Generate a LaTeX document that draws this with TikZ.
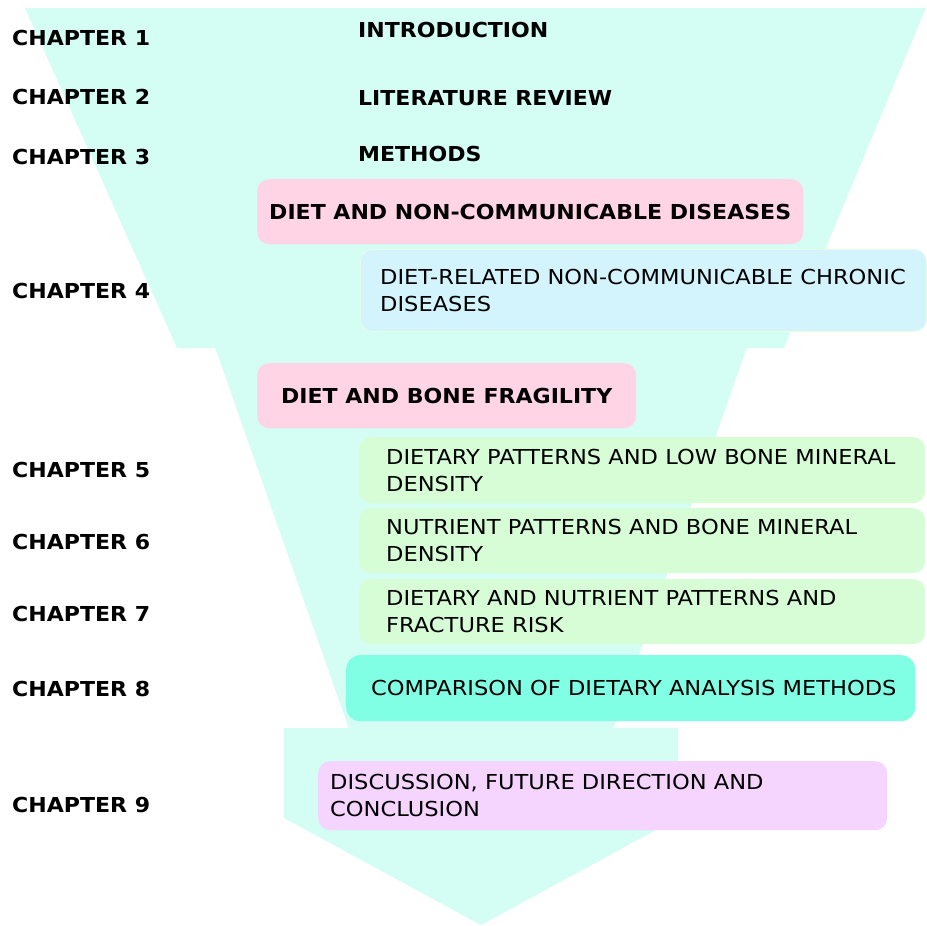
\documentclass[tikz,border=0pt]{standalone}
\usepackage{fontspec}
\setmainfont{DejaVu Sans}[FakeStretch=1.095]
\newfontfamily\chapfont{DejaVu Sans}[FakeStretch=1.07]

\definecolor{funnel}{HTML}{D4FDF3}
\definecolor{rose}{HTML}{FFD4E4}
\definecolor{sky}{HTML}{D4F4FD}
\definecolor{mint}{HTML}{D6FDD6}
\definecolor{aqua}{HTML}{80FFE4}
\definecolor{lilac}{HTML}{F5D4FD}

\tikzset{
  chap/.style={anchor=base west, inner sep=0pt, font=\chapfont\fontsize{20.6}{25}\selectfont\bfseries},
  panel/.style={anchor=north west, rounded corners=12pt, inner sep=0pt, draw=none},
  boldtxt/.style={inner sep=0pt, font=\chapfont\fontsize{20.6}{26.7}\selectfont\bfseries},
  plaintxt/.style={inner sep=0pt, anchor=west, align=left, font=\fontsize{20.6}{26.7}\selectfont},
}

\begin{document}
\begin{tikzpicture}[x=1pt, y=-1pt]
\useasboundingbox (0,0) rectangle (926,926);

% funnel background
\fill[funnel] (25,8) -- (926,8) -- (784,348) -- (177,348) -- cycle;
\fill[funnel] (215,347) -- (747,347) -- (613,729) -- (349,729) -- cycle;
\fill[funnel] (284,728) -- (678,728) -- (678,818) -- (483,924)
  to[out=-150,in=-30] (479,924) -- (284,818) -- cycle;

% chapter labels
\node[chap] (c1) at (12,45) {CHAPTER 1};
\node[chap] (c2) at (12,104.5) {CHAPTER 2};
\node[chap] (c3) at (12,164) {CHAPTER 3};
\node[chap] (c4) at (12,298) {CHAPTER 4};
\node[chap] (c5) at (12,477) {CHAPTER 5};
\node[chap] (c6) at (12,549) {CHAPTER 6};
\node[chap] (c7) at (12,621.5) {CHAPTER 7};
\node[chap] (c8) at (12,696.5) {CHAPTER 8};
\node[chap] (c9) at (12,812.5) {CHAPTER 9};

% headings of the first chapters
\node[chap] (h1) at (358,37.5) {INTRODUCTION};
\node[chap] (h2) at (358,105) {LITERATURE REVIEW};
\node[chap] (h3) at (358,161.5) {METHODS};

% chapter 4 panels
\node[panel, fill=rose, minimum width=546, minimum height=65] (b1) at (257,179) {};
\node[boldtxt] (t1) at (b1.center) {DIET AND NON-COMMUNICABLE DISEASES};
\node[panel, fill=sky, draw=mint!60, line width=0.8pt, minimum width=566, minimum height=82] (b4) at (360,249) {};
\node[plaintxt] (t4) at ([xshift=20pt]b4.west) {DIET-RELATED NON-COMMUNICABLE CHRONIC\\DISEASES};

% chapters 5-7 panels
\node[panel, fill=rose, minimum width=379, minimum height=65] (b2) at (257,363) {};
\node[boldtxt] (t2) at (b2.center) {DIET AND BONE FRAGILITY};
\node[panel, fill=mint, minimum width=566, minimum height=66] (b5) at (359,437) {};
\node[plaintxt] (t5) at ([xshift=27pt]b5.west) {DIETARY PATTERNS AND LOW BONE MINERAL\\DENSITY};
\node[panel, fill=mint, minimum width=566, minimum height=65] (b6) at (359,508) {};
\node[plaintxt] (t6) at ([xshift=27pt]b6.west) {NUTRIENT PATTERNS AND BONE MINERAL\\DENSITY};
\node[panel, fill=mint, minimum width=566, minimum height=65] (b7) at (359,579) {};
\node[plaintxt] (t7) at ([xshift=27pt]b7.west) {DIETARY AND NUTRIENT PATTERNS AND\\FRACTURE RISK};

% chapter 8 and 9 panels
\node[panel, fill=aqua, rounded corners=14pt, minimum width=569, minimum height=66] (b8) at (346,655) {};
\node[plaintxt] (t8) at ([xshift=25pt]b8.west) {COMPARISON OF DIETARY ANALYSIS METHODS};
\node[panel, fill=lilac, minimum width=569, minimum height=69] (b9) at (318,761) {};
\node[plaintxt] (t9) at ([xshift=12pt]b9.west) {DISCUSSION, FUTURE DIRECTION AND\\CONCLUSION};
\end{tikzpicture}
\end{document}
